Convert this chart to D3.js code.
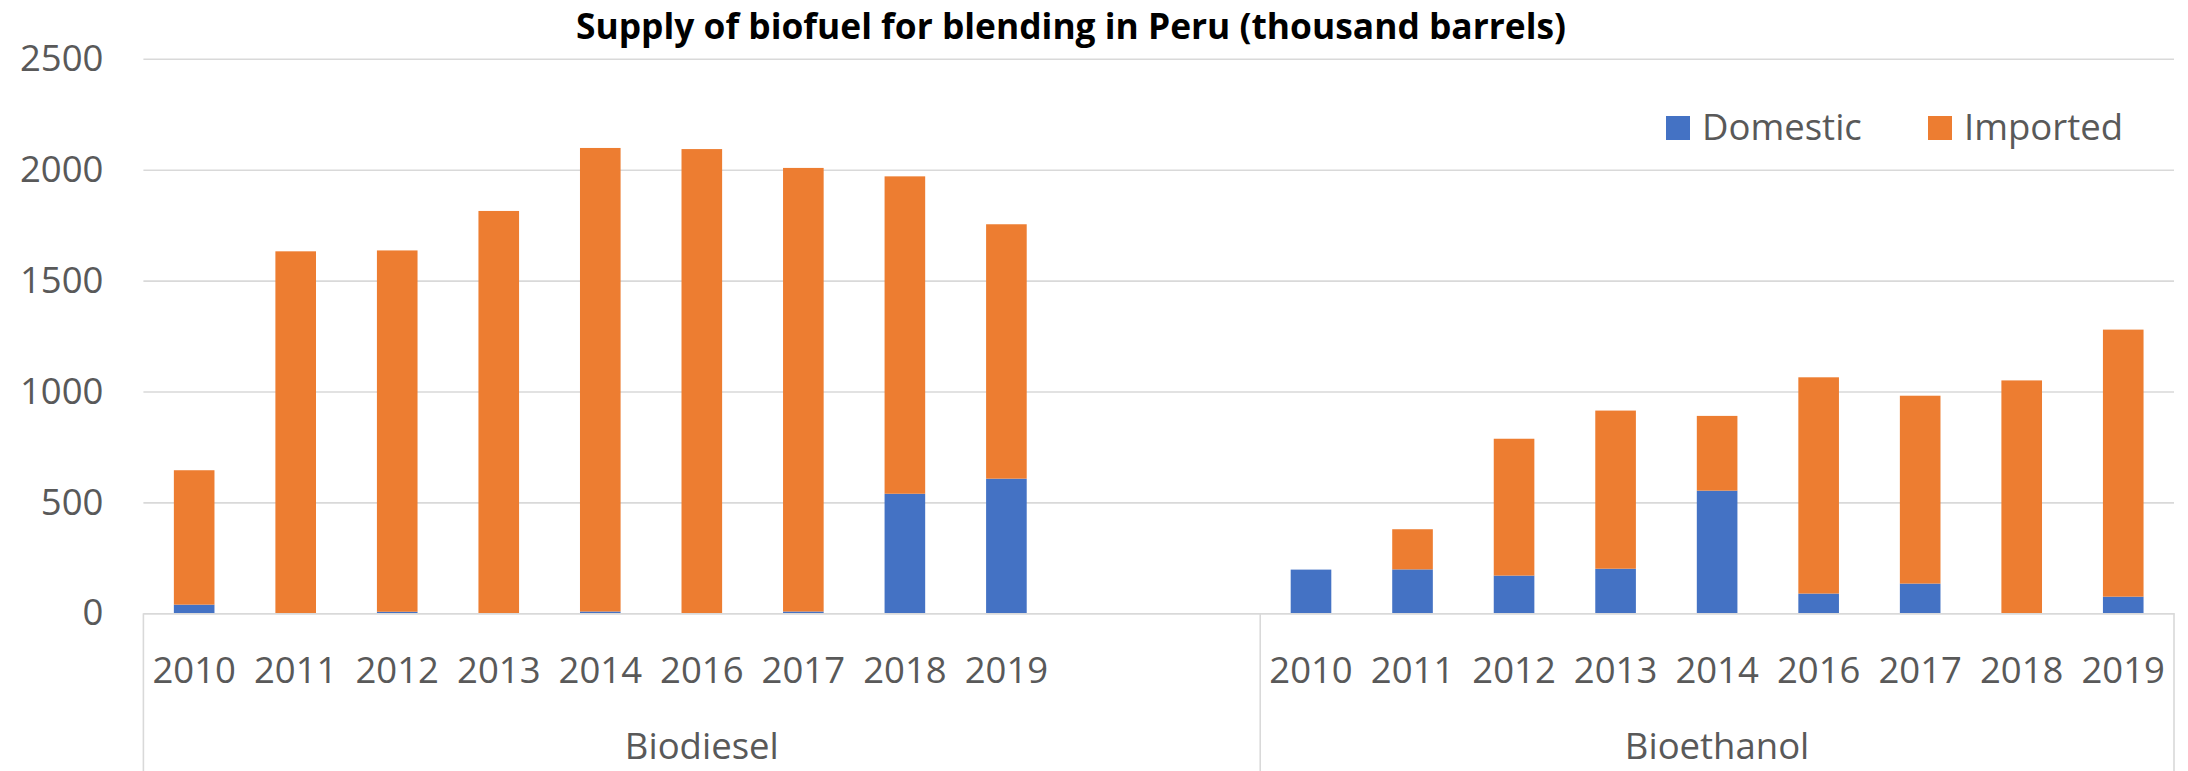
<!DOCTYPE html>
<meta charset="utf-8">
<script src="https://d3js.org/d3.v7.min.js"></script>
<style>
  body { margin: 0; background: #fff; }
  text { font-family: "Open Sans", sans-serif; fill: #595959; }
</style>

<svg id="chart" width="2188" height="771"></svg>

<script>

// Data (thousand barrels)
var groups = ["Biodiesel", "Bioethanol"];
var years = ["2010", "2011", "2012", "2013", "2014", "2016", "2017", "2018", "2019"];
var blankAfterBiodiesel = 2;   // the sheet has two empty rows after Biodiesel
var series = ["Domestic", "Imported"];
var colors = ["#4472C4", "#ED7D31"];

var biodieselDomestic  = [39, 0, 7, 0, 8, 0, 8, 539, 607];
var biodieselImported  = [606, 1632, 1629, 1814, 2090, 2093, 2000, 1431, 1147];
var bioethanolDomestic = [197, 198, 170, 201, 553, 89, 134, 0, 75];
var bioethanolImported = [0, 181, 617, 713, 337, 975, 847, 1050, 1204];

var yTicks = [0, 500, 1000, 1500, 2000, 2500];
var title = "Supply of biofuel for blending in Peru (thousand barrels)";

// build the row table
var rows = [];
years.forEach(function(yr, i) {
  rows.push({key: "Biodiesel|" + yr, group: "Biodiesel", year: yr,
             Domestic: biodieselDomestic[i], Imported: biodieselImported[i]});
});
for (var b = 0; b < blankAfterBiodiesel; b++) {
  rows.push({key: "Biodiesel|blank" + b, group: "Biodiesel", year: "", Domestic: 0, Imported: 0});
}
years.forEach(function(yr, i) {
  rows.push({key: "Bioethanol|" + yr, group: "Bioethanol", year: yr,
             Domestic: bioethanolDomestic[i], Imported: bioethanolImported[i]});
});

var svg = d3.select("#chart"),
    width = +svg.attr("width"),
    height = +svg.attr("height");

var margin = {left: 143.4, right: 14, top: 58.8, bottom: 157.7};
var plotRight = width - margin.right;
var plotBottom = height - margin.bottom;

var x = d3.scaleBand()
    .domain(rows.map(d => d.key))
    .range([margin.left, plotRight])
    .paddingInner(0.6)
    .paddingOuter(0.3);

var y = d3.scaleLinear()
    .domain([0, 2500])
    .range([plotBottom, margin.top]);

var color = d3.scaleOrdinal().domain(series).range(colors);

// gridlines + y labels
var yAxis = svg.append("g")
    .attr("transform", "translate(" + margin.left + ",0)")
    .call(d3.axisLeft(y).tickValues(yTicks).tickFormat(d3.format("d"))
      .tickSize(-(plotRight - margin.left)).tickPadding(40));
yAxis.select(".domain").remove();
yAxis.selectAll(".tick line").attr("stroke", "#d9d9d9").attr("stroke-width", 1.6);
yAxis.selectAll(".tick text")
    .style("font-family", "'Open Sans', sans-serif")
    .style("font-size", "36.5px")
    .attr("fill", "#595959");

// stacked bars
var stack = d3.stack().keys(series)(rows);

svg.append("g")
  .selectAll("g")
  .data(stack)
  .enter().append("g")
    .attr("fill", d => color(d.key))
  .selectAll("rect")
  .data(d => d.filter(p => p[1] - p[0] > 0))
  .enter().append("rect")
    .attr("x", d => x(d.data.key))
    .attr("width", x.bandwidth())
    .attr("y", d => y(d[1]))
    .attr("height", d => y(d[0]) - y(d[1]));

// category axis: years
var xAxis = svg.append("g")
    .attr("transform", "translate(0," + plotBottom + ")")
    .call(d3.axisBottom(x).tickSize(0).tickPadding(44)
      .tickFormat(k => rows.find(r => r.key === k).year));
xAxis.select(".domain").attr("stroke", "#d9d9d9").attr("stroke-width", 1.6);
xAxis.selectAll(".tick text")
    .style("font-family", "'Open Sans', sans-serif")
    .style("font-size", "36.5px")
    .attr("fill", "#595959");

// group separators and group labels
var step = x.step();
var groupBounds = groups.map(function(g) {
  var keys = rows.filter(r => r.group === g).map(r => r.key);
  var x0 = x(keys[0]) - step * x.paddingInner() / 2;
  var x1 = x(keys[keys.length - 1]) + x.bandwidth() + step * x.paddingInner() / 2;
  return {group: g, x0: x0, x1: x1};
});
groupBounds[0].x0 = margin.left;
groupBounds[groupBounds.length - 1].x1 = plotRight;

var sepX = [groupBounds[0].x0].concat(groupBounds.map(d => d.x1));
svg.append("g").selectAll("line")
  .data(sepX)
  .enter().append("line")
    .attr("x1", d => d).attr("x2", d => d)
    .attr("y1", plotBottom).attr("y2", height)
    .attr("stroke", "#d9d9d9")
    .attr("stroke-width", 1.6);

svg.append("g").selectAll("text")
  .data(groupBounds)
  .enter().append("text")
    .attr("x", d => (d.x0 + d.x1) / 2)
    .attr("y", 759)
    .attr("text-anchor", "middle")
    .style("font-size", "36.5px")
    .text(d => d.group);

// title
svg.append("text")
    .attr("x", 1071)
    .attr("y", 39)
    .attr("text-anchor", "middle")
    .attr("textLength", 990)
    .attr("lengthAdjust", "spacingAndGlyphs")
    .style("font-size", "35px")
    .style("font-weight", "bold")
    .style("fill", "#000")
    .text(title);

// legend
var legendPos = [1666, 1928];
var legend = svg.append("g").selectAll("g")
  .data(series)
  .enter().append("g")
    .attr("transform", (d, i) => "translate(" + legendPos[i] + ",116)");
legend.append("rect")
    .attr("width", 24).attr("height", 24)
    .attr("fill", d => color(d));
legend.append("text")
    .attr("x", 36)
    .attr("y", 23.5)
    .style("font-size", "36.5px")
    .text(d => d);

</script>
